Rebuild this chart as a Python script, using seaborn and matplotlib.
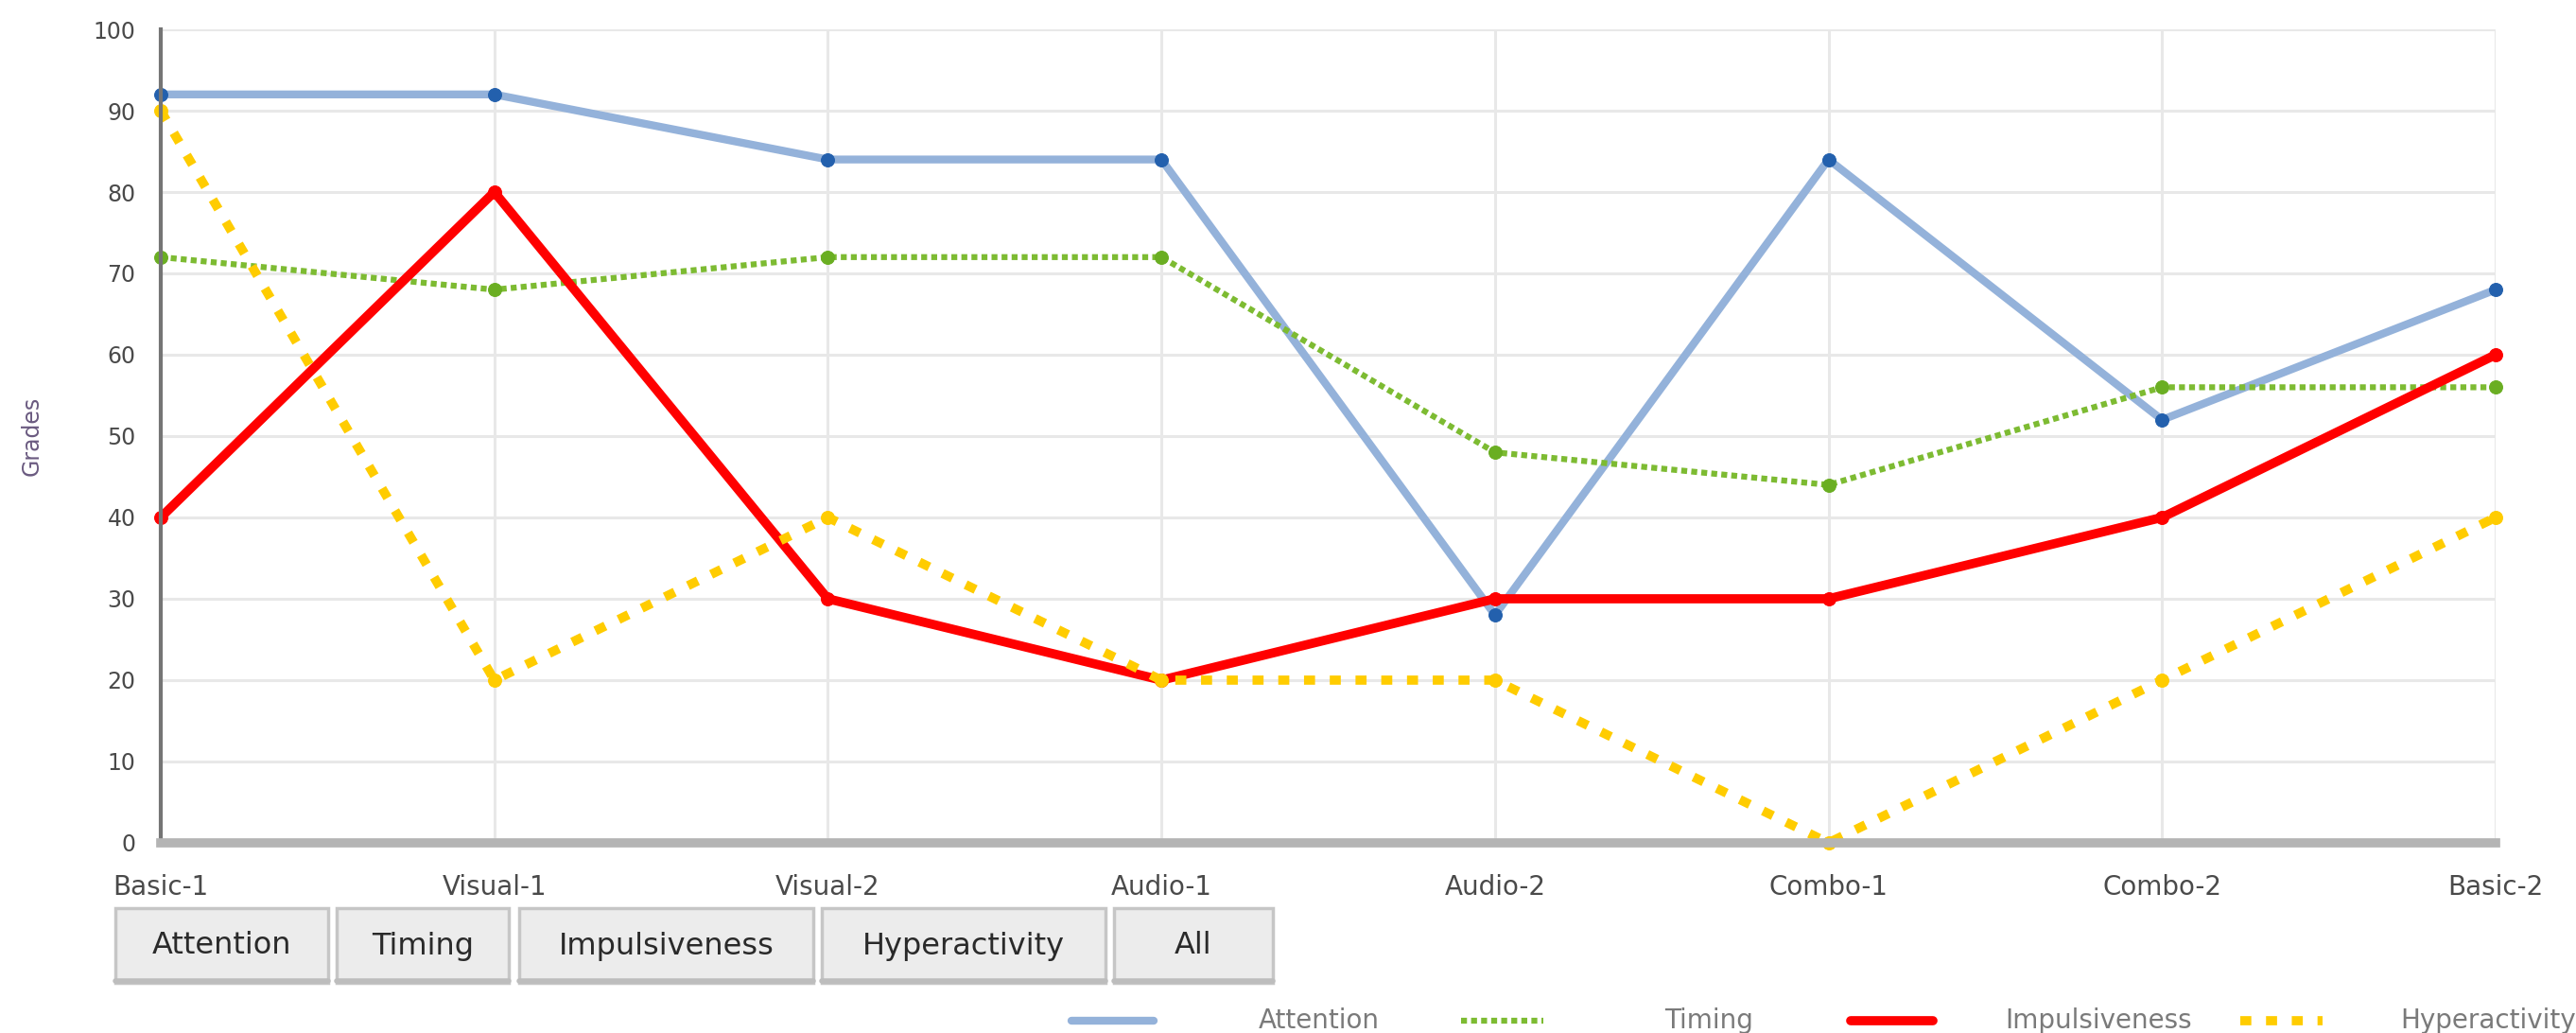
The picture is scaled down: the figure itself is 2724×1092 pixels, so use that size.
import numpy as np
import pandas as pd
import matplotlib
matplotlib.use("Agg")
import matplotlib.pyplot as plt
from matplotlib.patches import Rectangle
from matplotlib.lines import Line2D
import seaborn as sns

# data
stages = ["Basic-1", "Visual-1", "Visual-2", "Audio-1", "Audio-2", "Combo-1", "Combo-2", "Basic-2"]
attention = [92, 92, 84, 84, 28, 84, 52, 68]
timing = [72, 68, 72, 72, 48, 44, 56, 56]
impulsiveness = [40, 80, 30, 20, 30, 30, 40, 60]
hyperactivity = [90, 20, 40, 20, 20, 0, 20, 40]
buttons = ["Attention", "Timing", "Impulsiveness", "Hyperactivity", "All"]

sns.set_style("white")
plt.rcParams["font.family"] = ["DejaVu Sans"]

fig = plt.figure(figsize=(27.24, 10.92), dpi=100)
ax = fig.add_axes([0.0624, 0.1841, 0.9064, 0.7875])

x = np.arange(len(stages))

# line style for each series: (values, line colour, marker colour, width, dash)
series = [
    ("Attention", attention, "#94b2da", "#2360ad", 6.0, "-"),
    ("Timing", timing, "#7dbb32", "#6aae22", 4.5, (0, (1, 0.7))),
    ("Impulsiveness", impulsiveness, "#ff0000", "#ff0000", 7.0, "-"),
    ("Hyperactivity", hyperactivity, "#ffcc00", "#ffcc00", 7.0, (0, (1.2, 1.6))),
]

for name, vals, col, mcol, lw, ls in series:
    sns.lineplot(x=x, y=vals, ax=ax, color=col, linewidth=lw, linestyle=ls,
                 marker="o", markersize=10, markerfacecolor=mcol,
                 markeredgecolor=mcol, clip_on=False, label=None)

ax.set_xlim(0, 7)
ax.set_ylim(0, 100)
ax.set_xticks(x)
ax.set_xticklabels(stages)
ax.set_yticks(range(0, 101, 10))
ax.grid(True, color="#e8e8e8", linewidth=2.2)
ax.set_axisbelow(True)

for s in ["top", "right"]:
    ax.spines[s].set_visible(False)
ax.spines["left"].set_color("#757575")
ax.spines["left"].set_linewidth(3)
ax.spines["bottom"].set_color("#b4b4b4")
ax.spines["bottom"].set_linewidth(7)

ax.tick_params(axis="y", length=13, width=2, color="#a0a0a0", pad=6,
               labelsize=17, labelcolor="#4a4a4a")
ax.tick_params(axis="x", length=6, width=2, color="#666666", pad=18,
               labelsize=20, labelcolor="#4a4a4a")
ax.set_ylabel("Grades", fontsize=17, color="#6a5a80", labelpad=38)
ax.set_xlabel("")

# buttons under the chart
bx = [(122, 347), (356, 538), (549, 860), (869, 1169), (1178, 1346)]
W, H = 2724.0, 1092.0
for (x0, x1), lab in zip(bx, buttons):
    r = Rectangle((x0 / W, 1 - 1039 / H), (x1 - x0) / W, 79 / H,
                  transform=fig.transFigure, facecolor="#ececec",
                  edgecolor="#c6c6c6", linewidth=2.5)
    fig.add_artist(r)
    fig.add_artist(Line2D([x0 / W, x1 / W], [1 - 1037 / H, 1 - 1037 / H],
                          transform=fig.transFigure, color="#bdbdbd", linewidth=4))
    fig.text((x0 + x1) / 2 / W, 1 - 1000 / H, lab, ha="center", va="center",
             fontsize=23, color="#2a2a2a")

# legend at the bottom: fixed-width columns, label centred in its column
ly = 1 - 1079 / H
for i, (name, _, col, _, lw, ls) in enumerate(series):
    x0 = 1133 + i * 412
    fig.add_artist(Line2D([x0 / W, (x0 + 87) / W], [ly, ly], transform=fig.transFigure,
                          color=col, linewidth=lw, linestyle=ls))
    fig.text((x0 + 262) / W, ly, name, ha="center", va="center",
             fontsize=20, color="#7a7a7a")

fig.savefig("out.png", dpi=100)
